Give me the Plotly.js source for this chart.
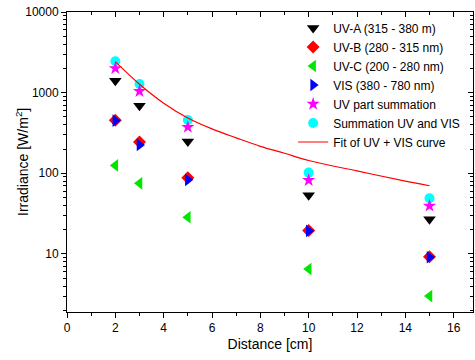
<!DOCTYPE html>
<html>
<head>
<meta charset="utf-8">
<script src="https://cdn.plot.ly/plotly-3.0.1.min.js"></script>
<style>html,body{margin:0;padding:0;background:#fff;}#chart{width:475px;height:360px;}</style>
</head>
<body>
<div id="chart"></div>
<script>
// Distances [cm]
var distance = [2, 3, 5, 10, 15];
// Irradiance values [W/m^2]
var uvA = [1400, 690, 247, 53.5, 27];
var uvB = [455, 245, 88, 19.5, 9.2];
var uvC = [125, 75, 28.5, 6.5, 3.0];
var vis = [450, 225, 83, 19.3, 9.1];
var uvSum = [2000, 1040, 373, 82, 39.5];
var totalSum = [2450, 1280, 459, 102, 49];
// Fit curve
var fitX = [2, 3, 4, 5, 6, 7, 8, 9, 10, 12, 14, 15];
var fitY = [2420, 1270, 740, 485, 355, 275, 216, 177, 144, 107, 80, 70];

var legendNames = ['UV-A (315 - 380 m)', 'UV-B (280 - 315 nm)', 'UV-C (200 - 280 nm)',
  'VIS (380 - 780 nm)', 'UV part summation', 'Summation UV and VIS', 'Fit of UV + VIS curve'];

var traces = [
  {x: distance, y: uvA, name: legendNames[0], mode: 'markers', legendrank: 1,
   marker: {symbol: 'triangle-down', size: 11, color: '#000000'}},
  {x: distance, y: uvB, name: legendNames[1], mode: 'markers', legendrank: 2,
   marker: {symbol: 'diamond', size: 10, color: '#ff0000'}},
  {x: distance, y: uvC, name: legendNames[2], mode: 'markers', legendrank: 3,
   marker: {symbol: 'triangle-left', size: 11, color: '#00e600'}},
  {x: distance, y: vis, name: legendNames[3], mode: 'markers', legendrank: 4,
   marker: {symbol: 'triangle-right', size: 11, color: '#0000ff'}},
  {x: distance, y: totalSum, name: legendNames[5], mode: 'markers', legendrank: 6,
   marker: {symbol: 'circle', size: 10, color: '#00ffff'}},
  {x: distance, y: uvSum, name: legendNames[4], mode: 'markers', legendrank: 5,
   marker: {symbol: 'star', size: 10, color: '#ff00ff'}},
  {x: fitX, y: fitY, name: legendNames[6], mode: 'lines', legendrank: 7,
   line: {color: '#ff0000', width: 1.2, shape: 'spline'}}
];

var minorLog = [];
[1, 10, 100, 1000].forEach(function (d) {
  for (var k = 2; k <= 9; k++) minorLog.push(k * d);
});

var fontFam = '"Liberation Sans", Arial, sans-serif';
var xr = [0, 16.8];
var yr = [0.28, 4];

var layout = {
  width: 475, height: 360,
  margin: {l: 67, r: 2, t: 12, b: 48},
  paper_bgcolor: '#ffffff', plot_bgcolor: '#ffffff',
  font: {family: fontFam, size: 12, color: '#000000'},
  showlegend: true,
  legend: {x: 0.557, y: 0.995,
    xanchor: 'left', yanchor: 'top', bgcolor: 'rgba(0,0,0,0)',
    font: {family: fontFam, size: 12, color: '#000000'}},
  xaxis: {range: xr, dtick: 2, tick0: 0, ticks: 'outside', ticklen: 5, tickcolor: '#000',
    showline: true, linecolor: '#000', linewidth: 1, showgrid: false, zeroline: false,
    minor: {dtick: 1, ticks: 'outside', ticklen: 3, tickcolor: '#000'},
    tickfont: {size: 12, color: '#000'},
    title: {text: 'Distance [cm]', font: {size: 14, color: '#000'}, standoff: 4}},
  xaxis2: {range: xr, overlaying: 'x', side: 'top', dtick: 2, tick0: 0, ticks: 'inside',
    ticklen: 5, tickcolor: '#000', showline: true, linecolor: '#000', linewidth: 1,
    showgrid: false, zeroline: false, showticklabels: false,
    minor: {dtick: 1, ticks: 'inside', ticklen: 3, tickcolor: '#000'}},
  yaxis: {type: 'log', range: yr, tickmode: 'array', tickvals: [10, 100, 1000, 10000],
    ticktext: ['10', '100', '1000', '10000'], ticks: 'outside', ticklen: 5, tickcolor: '#000',
    showline: true, linecolor: '#000', linewidth: 1, showgrid: false, zeroline: false,
    minor: {tickmode: 'array', tickvals: minorLog, ticks: 'outside', ticklen: 3, tickcolor: '#000'},
    tickfont: {size: 12, color: '#000'}},
  yaxis2: {type: 'log', range: yr, overlaying: 'y', side: 'right', tickmode: 'array',
    tickvals: [10, 100, 1000, 10000], ticks: 'inside', ticklen: 5, tickcolor: '#000',
    showline: true, linecolor: '#000', linewidth: 1, showgrid: false, zeroline: false,
    showticklabels: false,
    minor: {tickmode: 'array', tickvals: minorLog, ticks: 'inside', ticklen: 3, tickcolor: '#000'}},
  annotations: [{text: 'Irradiance [W/m<sup>2</sup>]', textangle: -90, showarrow: false,
    xref: 'paper', yref: 'paper', x: -0.111, y: 0.5, xanchor: 'center', yanchor: 'middle',
    font: {family: fontFam, size: 14, color: '#000'}}]
};

traces.push({x: [null], y: [null], xaxis: 'x2', yaxis: 'y2', showlegend: false,
  hoverinfo: 'skip', mode: 'markers'});

Plotly.newPlot('chart', traces, layout, {staticPlot: true, displayModeBar: false});
</script>
</body>
</html>
